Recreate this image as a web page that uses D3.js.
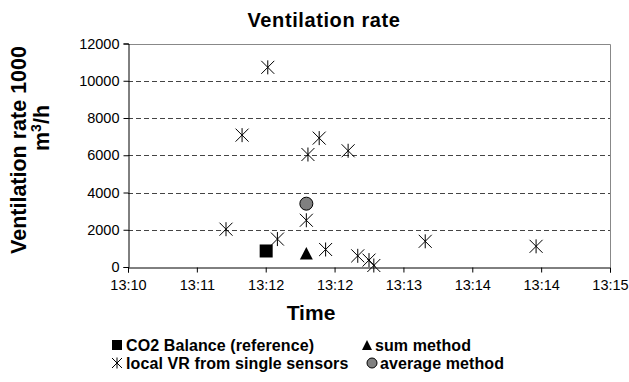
<!DOCTYPE html>
<html><head><meta charset="utf-8">
<script src="https://cdn.jsdelivr.net/npm/d3@7"></script>
<style>body{margin:0;background:#fff}svg{display:block}</style>
</head><body>
<svg id="chart" width="629" height="382"></svg>
<script>
// ---- data ----
const xTickLabels = ["13:10","13:11","13:12","13:12","13:13","13:14","13:14","13:15"];
const yTickValues = [0,2000,4000,6000,8000,10000,12000];
const localTimes  = ["13:11:27","13:11:11","13:11:59","13:11:52","13:12:17","13:11:51","13:11:01","13:11:33","13:12:03","13:12:23","13:12:30","13:12:33","13:13:05","13:14:14"];
const localValues = [10720,7080,6920,6040,6240,2510,2030,1500,940,600,370,80,1380,1110];
const co2Times  = ["13:11:26"];
const co2Values = [860];
const sumTimes  = ["13:11:51"];
const sumValues = [720];
const avgTimes  = ["13:11:51"];
const avgValues = [3400];
const legendLabels = ["CO2 Balance (reference)","sum method","local VR from single sensors","average method"];

// ---- setup ----
const FONT = "'Liberation Sans', Arial, Helvetica, sans-serif";
const svg = d3.select("#chart").style("font-family", FONT);
const parse = d3.timeParse("%H:%M:%S");
const t0 = parse("13:10:00"), t1 = parse("13:15:00");
const L = 128, R = 610, T = 43.5, B = 267;
const x = d3.scaleTime().domain([t0, t1]).range([L, R]);
const y = d3.scaleLinear().domain([0, 12000]).range([B, T]);
const xTickVals = xTickLabels.map((d, i) => new Date(+t0 + i * (t1 - t0) / (xTickLabels.length - 1)));

// gridlines
svg.append("g").selectAll("line").data(yTickValues.filter(v => v > 0 && v < 12000)).join("line")
  .attr("x1", L).attr("x2", R)
  .attr("y1", d => Math.round(y(d)) + 0.5).attr("y2", d => Math.round(y(d)) + 0.5)
  .attr("stroke", "#444").attr("stroke-dasharray", "5,3");

// frame top/right (gray)
svg.append("path").attr("d", `M${L},${Math.round(T)+0.5}H${R+0.5}V${B}`)
  .attr("fill", "none").attr("stroke", "#888");

// axes
const yAxis = d3.axisLeft(y).tickValues(yTickValues).tickFormat(d3.format("d")).tickSize(5).tickPadding(4);
const gy = svg.append("g").attr("transform", `translate(${L + 0.5},0)`).call(yAxis);
const xAxis = d3.axisBottom(x).tickValues(xTickVals).tickFormat((d, i) => xTickLabels[i]).tickSize(5).tickPadding(7);
const gx = svg.append("g").attr("transform", `translate(0,${B + 0.5})`).call(xAxis);
[gx, gy].forEach(g => {
  g.select(".domain").attr("stroke", "#000");
  g.selectAll(".tick line").attr("stroke", "#000");
  g.selectAll("text").attr("fill", "#000").style("font-size", "14.5px").style("font-family", FONT);
});

// ---- markers ----
const star = "M-6.5,-6.5L6.5,6.5M-6.5,6.5L6.5,-6.5M0,-7L0,7";
const starSmall = "M-5,-5L5,5M-5,5L5,-5M0,-5.5L0,5.5";

svg.append("g").selectAll("path").data(localTimes.map((t, i) => [parse(t), localValues[i]])).join("path")
  .attr("transform", d => `translate(${x(d[0])},${y(d[1])})`)
  .attr("d", star).attr("stroke", "#000").attr("stroke-width", 1).attr("fill", "none");

svg.append("g").selectAll("rect").data(co2Times.map((t, i) => [parse(t), co2Values[i]])).join("rect")
  .attr("x", d => x(d[0]) - 6.5).attr("y", d => y(d[1]) - 6.5)
  .attr("width", 13).attr("height", 13).attr("fill", "#000");

svg.append("g").selectAll("path").data(sumTimes.map((t, i) => [parse(t), sumValues[i]])).join("path")
  .attr("transform", d => `translate(${x(d[0])},${y(d[1])})`)
  .attr("d", "M0,-6.5L6.5,6L-6.5,6Z").attr("fill", "#000");

svg.append("g").selectAll("circle").data(avgTimes.map((t, i) => [parse(t), avgValues[i]])).join("circle")
  .attr("cx", d => x(d[0])).attr("cy", d => y(d[1])).attr("r", 6.5)
  .attr("fill", "#808080").attr("stroke", "#000").attr("stroke-width", 1);

// ---- titles ----
svg.append("text").attr("x", 324).attr("y", 27).attr("text-anchor", "middle")
  .style("font-size", "20px").style("font-weight", "bold").style("letter-spacing", "0.6px")
  .text("Ventilation rate");

svg.append("text").attr("x", 311).attr("y", 320).attr("text-anchor", "middle")
  .style("font-size", "21px").style("font-weight", "bold").text("Time");

const yl = svg.append("text").attr("transform", "rotate(-90)")
  .attr("text-anchor", "middle").style("font-size", "21.5px").style("font-weight", "bold");
yl.append("tspan").attr("x", -150).attr("y", 26).text("Ventilation rate 1000");
const l2 = yl.append("tspan").attr("x", -128).attr("y", 49);
l2.append("tspan").text("m");
l2.append("tspan").attr("dy", -8).style("font-size", "14px").text("3");
l2.append("tspan").attr("dy", 8).text("/h");

// ---- legend ----
const legFont = "16px";
const legend = [
  {lab: legendLabels[0], mx: 117, tx: 126, yy: 345, type: "square"},
  {lab: legendLabels[1], mx: 367, tx: 375, yy: 345, type: "triangle"},
  {lab: legendLabels[2], mx: 117, tx: 126, yy: 363, type: "star"},
  {lab: legendLabels[3], mx: 372, tx: 380, yy: 363, type: "circle"}
];
const lg = svg.append("g").selectAll("g").data(legend).join("g");
lg.each(function(d) {
  const g = d3.select(this);
  if (d.type === "square") g.append("rect").attr("x", d.mx - 5).attr("y", d.yy - 5).attr("width", 10).attr("height", 10).attr("fill", "#000");
  if (d.type === "triangle") g.append("path").attr("d", `M${d.mx},${d.yy - 5}L${d.mx + 5},${d.yy + 5}L${d.mx - 5},${d.yy + 5}Z`).attr("fill", "#000");
  if (d.type === "star") g.append("path").attr("transform", `translate(${d.mx},${d.yy})`).attr("d", starSmall).attr("stroke", "#000").attr("fill", "none");
  if (d.type === "circle") g.append("circle").attr("cx", d.mx).attr("cy", d.yy).attr("r", 5).attr("fill", "#808080").attr("stroke", "#000");
  g.append("text").attr("x", d.tx).attr("y", d.yy).attr("dy", "0.36em")
    .style("font-size", legFont).style("font-weight", "bold").style("letter-spacing", "0.1px").text(d.lab);
});
</script>
</body></html>
